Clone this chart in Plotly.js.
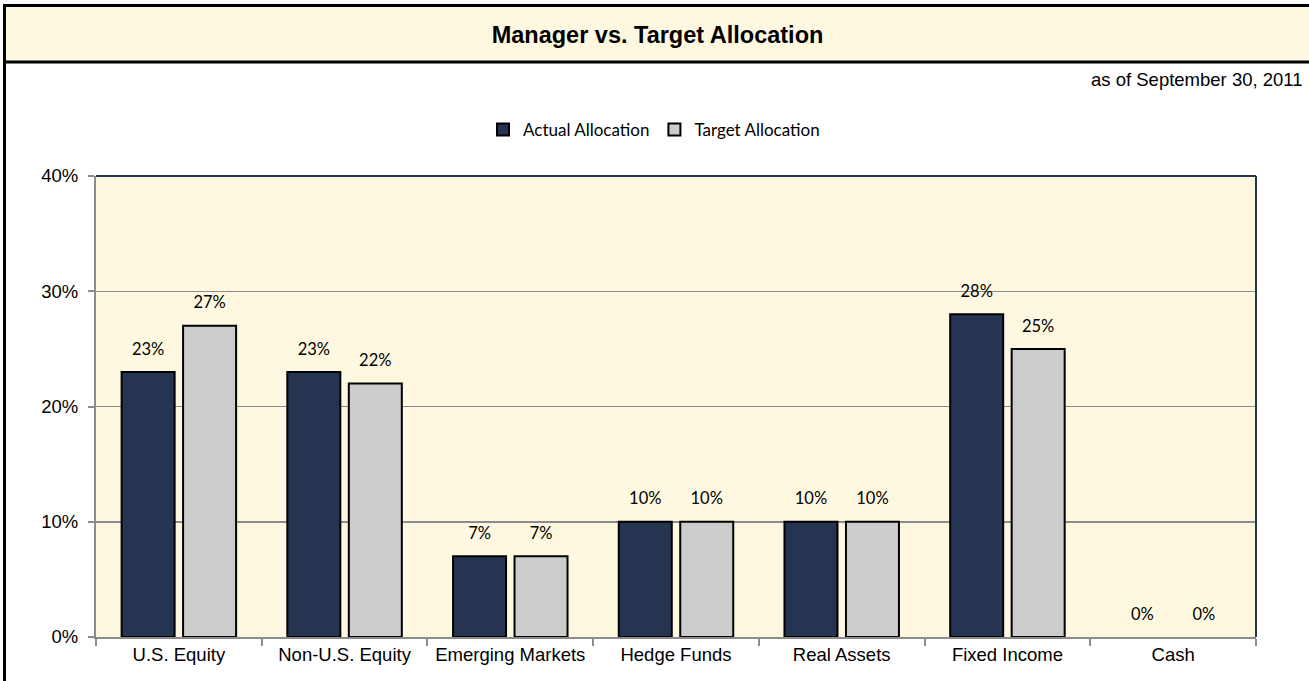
<!DOCTYPE html>
<html>
<head>
<meta charset="utf-8">
<script src="https://cdn.plot.ly/plotly-3.0.1.min.js"></script>
<style>
  html, body { margin: 0; padding: 0; background: #ffffff; }
  #chart { width: 1309px; height: 681px; }
</style>
</head>
<body>
<div id="chart"></div>
<script>
// ---- Data ----
const categories = ["U.S. Equity", "Non-U.S. Equity", "Emerging Markets", "Hedge Funds", "Real Assets", "Fixed Income", "Cash"];
const actualAllocation = [23, 23, 7, 10, 10, 28, 0];
const targetAllocation = [27, 22, 7, 10, 10, 25, 0];
const yTickValues = [0, 10, 20, 30, 40];
const yTickLabels = ["0%", "10%", "20%", "30%", "40%"];
const chartTitle = "Manager vs. Target Allocation";
const asOfText = "as of September 30, 2011";

// ---- Geometry helpers (pixel -> paper) ----
const W = 1309, H = 681;
const L = 96, R = 1256, T = 176, B = 637;
const xp = px => (px - L) / (R - L);
const yp = py => (B - py) / (B - T);

const BAND = "#FFF8E1";
const NAVY = "#243451";
const GREY = "#CCCCCC";
const AXIS = "#8C8C8C";

function lineWidths(vals) { return vals.map(v => v === 0 ? 0 : 2); }
// label text: value line, followed by a small blank line that lifts it above the bar
function labels(vals) {
  return vals.map(v => '<span style="font-size:16.5px">' + v + '%</span><br> ');
}

const labelFont = { family: "Lato, 'Open Sans', sans-serif", size: 9.5, color: "#000000" };

const traces = [
  {
    type: "bar", name: "Actual Allocation", x: categories, y: actualAllocation,
    marker: { color: NAVY, line: { color: "#000000", width: lineWidths(actualAllocation) } },
    text: labels(actualAllocation), textposition: "outside", textfont: labelFont,
    constraintext: "none", cliponaxis: false, hoverinfo: "skip"
  },
  {
    type: "bar", name: "Target Allocation", x: categories, y: targetAllocation,
    marker: { color: GREY, line: { color: "#000000", width: lineWidths(targetAllocation) } },
    text: labels(targetAllocation), textposition: "outside", textfont: labelFont,
    constraintext: "none", cliponaxis: false, hoverinfo: "skip"
  }
];

const arial = "Arial, 'Liberation Sans', sans-serif";

const layout = {
  width: W, height: H,
  margin: { l: L, r: W - R, t: T, b: H - B, pad: 0 },
  paper_bgcolor: "#ffffff",
  plot_bgcolor: BAND,
  barmode: "group",
  bargap: 0.258,
  bargroupgap: 0.138,
  showlegend: true,
  title: {
    text: "<b>" + chartTitle + "</b>",
    font: { family: arial, size: 23.5, color: "#000000" },
    xref: "paper", x: xp(657.5), xanchor: "center",
    yref: "container", y: 1 - 35 / H, yanchor: "middle"
  },
  legend: {
    orientation: "h",
    xref: "container", x: 654 / W, xanchor: "center",
    yref: "container", y: 1 - 130 / H, yanchor: "middle",
    font: { family: "Lato, 'Open Sans', sans-serif", size: 17, color: "#000000" },
    bgcolor: "rgba(0,0,0,0)",
    itemclick: false, itemdoubleclick: false
  },
  xaxis: {
    type: "category",
    showline: true, linecolor: AXIS, linewidth: 2,
    ticks: "outside", tickson: "boundaries", ticklen: 7, tickcolor: AXIS, tickwidth: 2,
    showgrid: false, zeroline: false,
    tickfont: { family: arial, size: 18.5, color: "#000000" },
    fixedrange: true
  },
  yaxis: {
    range: [0, 40],
    tickvals: yTickValues, ticktext: yTickLabels,
    showline: true, linecolor: AXIS, linewidth: 2,
    ticks: "outside", ticklen: 6, tickcolor: AXIS, tickwidth: 2,
    showgrid: true, gridcolor: AXIS, gridwidth: 1.5,
    zeroline: false,
    ticklabelstandoff: 6,
    tickfont: { family: arial, size: 18.5, color: "#000000" },
    fixedrange: true
  },
  shapes: [
    // title band
    { type: "rect", xref: "paper", yref: "paper", layer: "below",
      x0: xp(4.5), x1: xp(1330), y0: yp(62), y1: yp(5.5),
      fillcolor: BAND, line: { color: "#000000", width: 3 } },
    // left frame edge
    { type: "line", xref: "paper", yref: "paper",
      x0: xp(4.5), x1: xp(4.5), y0: yp(5.5), y1: yp(700),
      line: { color: "#000000", width: 3 } },
    // plot top border
    { type: "line", xref: "paper", yref: "paper", layer: "above",
      x0: 0, x1: 1, y0: 1, y1: 1, line: { color: NAVY, width: 2 } },
    // plot right border
    { type: "line", xref: "paper", yref: "paper", layer: "above",
      x0: 1, x1: 1, y0: 0, y1: 1, line: { color: NAVY, width: 2 } }
  ],
  annotations: [
    { text: asOfText, xref: "paper", yref: "paper",
      x: xp(1305), xanchor: "right", y: yp(80), yanchor: "middle",
      showarrow: false,
      font: { family: arial, size: 18.5, color: "#000000" } }
  ]
};

Plotly.newPlot("chart", traces, layout, { displayModeBar: false, staticPlot: true });
</script>
</body>
</html>
